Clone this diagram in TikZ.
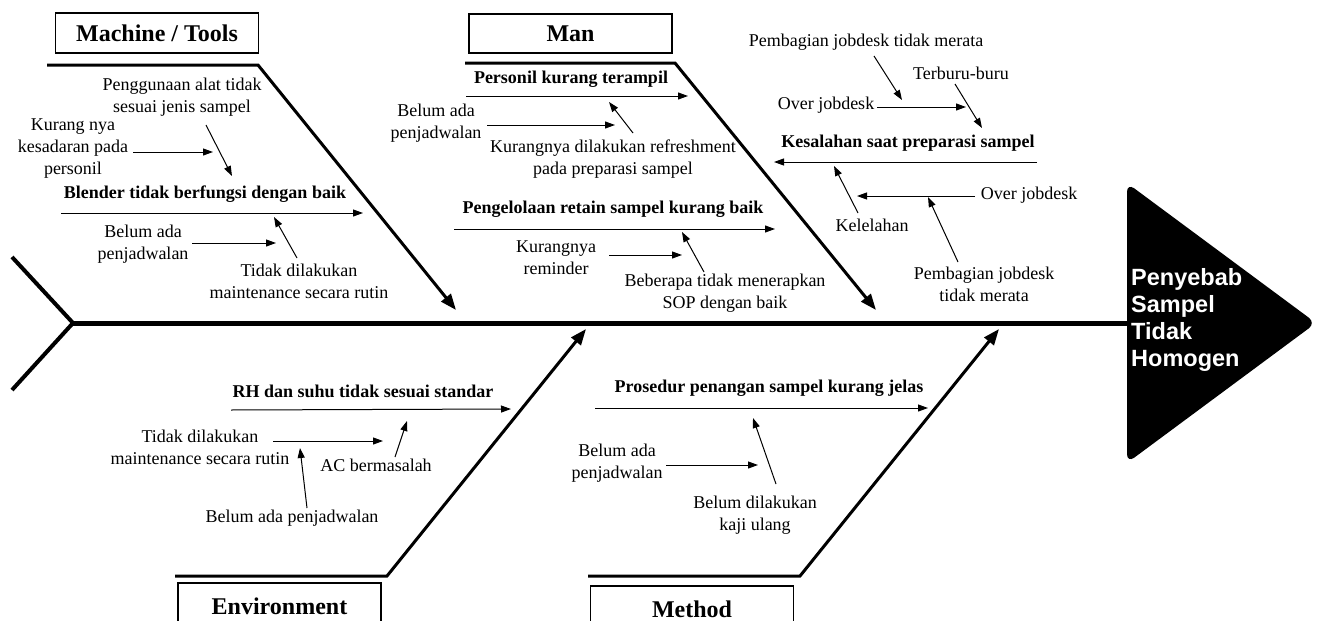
\documentclass[tikz,border=0pt]{standalone}
\usepackage{fontspec}
\setmainfont{Liberation Serif}
\newfontfamily\headfont{Liberation Sans}
\usetikzlibrary{arrows.meta}
\begin{document}
\begin{tikzpicture}[x=1pt,y=-1pt,
  lbl/.style={font=\fontsize{18}{22}\selectfont, align=center, inner sep=0pt},
  blbl/.style={font=\fontsize{18}{22}\selectfont\bfseries, align=center, inner sep=0pt},
  catbox/.style={draw, line width=1.2pt, font=\fontsize{24}{28}\selectfont\bfseries, inner sep=0pt, minimum width=203pt},
  bone/.style={line width=3pt, line join=miter, -{Triangle[length=16pt,width=12pt]}},
  sub/.style={line width=1pt, -{Triangle[length=10pt,width=7pt]}},
  spine/.style={line width=5pt}
]
\useasboundingbox (0,0) rectangle (1325,621);
\fill[white] (0,0) rectangle (1325,621);

% ---------- spine, tail, head ----------
\coordinate (tailT) at (12,257);
\coordinate (tailV) at (73,323);
\coordinate (tailB) at (12,390);
\coordinate (headL) at (1128,323);
\draw[line width=4pt, line join=miter] (tailT) -- (tailV) -- (tailB);
\fill[black, rounded corners=9pt] (1127,183) -- (1316,323) -- (1127,463) -- cycle;
\draw[spine] (tailV) -- (headL);
\node[anchor=west, text=white, align=left, inner sep=0pt,
      font=\headfont\bfseries\fontsize{23.5}{27}\selectfont] (head) at (1131,320)
  {Penyebab\\Sampel\\Tidak\\Homogen};

% ---------- category boxes ----------
\node[catbox, minimum height=40pt] (machine) at (157,33) {Machine / Tools};
\node[catbox, minimum height=39pt] (man) at (570.5,33.5) {Man};
\node[catbox, minimum height=46pt] (env) at (279.5,606) {Environment};
\node[catbox, minimum height=46pt] (method) at (692,609) {Method};

% ---------- main bones ----------
\coordinate (mb1) at (47,65);  \coordinate (mb2) at (258,65);  \coordinate (mb3) at (456,310);
\coordinate (nb1) at (465,63); \coordinate (nb2) at (675,63);  \coordinate (nb3) at (876,310);
\coordinate (eb1) at (175,576);\coordinate (eb2) at (387,576); \coordinate (eb3) at (586,329);
\coordinate (tb1) at (588,576);\coordinate (tb2) at (800,576); \coordinate (tb3) at (999,329);
\draw[bone] (mb1) -- (mb2) -- (mb3);
\draw[bone] (nb1) -- (nb2) -- (nb3);
\draw[bone] (eb1) -- (eb2) -- (eb3);
\draw[bone] (tb1) -- (tb2) -- (tb3);

% ---------- Machine / Tools ----------
\node[lbl] (m1) at (182,97) {Penggunaan alat tidak\\sesuai jenis sampel};
\node[lbl] (m2) at (73,149) {Kurang nya\\kesadaran pada\\personil};
\node[blbl] (m3) at (205,194) {Blender tidak berfungsi dengan baik};
\node[lbl] (m4) at (143,244) {Belum ada\\penjadwalan};
\node[lbl] (m5) at (299,281) {Tidak dilakukan\\maintenance secara rutin};
\coordinate (ma1s) at (206,125); \coordinate (ma1e) at (232,176);
\coordinate (ma2s) at (133,152); \coordinate (ma2e) at (213,152);
\coordinate (ma3s) at (61,213);  \coordinate (ma3e) at (363,213);
\coordinate (ma4s) at (192,243); \coordinate (ma4e) at (276,243);
\coordinate (ma5s) at (297,258); \coordinate (ma5e) at (274,217);
\draw[sub] (ma1s) -- (ma1e);
\draw[sub] (ma2s) -- (ma2e);
\draw[sub] (ma3s) -- (ma3e);
\draw[sub] (ma4s) -- (ma4e);
\draw[sub] (ma5s) -- (ma5e);

% ---------- Man ----------
\node[blbl] (n1) at (571,79) {Personil kurang terampil};
\node[lbl] (n2) at (436,123) {Belum ada\\penjadwalan};
\node[lbl] (n3) at (613,159) {Kurangnya dilakukan refreshment\\pada preparasi sampel};
\node[blbl] (n4) at (613,209) {Pengelolaan retain sampel kurang baik};
\node[lbl] (n5) at (556,258) {Kurangnya\\reminder};
\node[lbl] (n6) at (725,293) {Beberapa tidak menerapkan\\SOP dengan baik};
\coordinate (na1s) at (466,96);  \coordinate (na1e) at (688,96);
\coordinate (na2s) at (487,125); \coordinate (na2e) at (615,125);
\coordinate (na3s) at (633,133); \coordinate (na3e) at (609,102);
\coordinate (na4s) at (454,229); \coordinate (na4e) at (775,229);
\coordinate (na5s) at (609,255); \coordinate (na5e) at (682,255);
\coordinate (na6s) at (704,272); \coordinate (na6e) at (682,232);
\draw[sub] (na1s) -- (na1e);
\draw[sub] (na2s) -- (na2e);
\draw[sub] (na3s) -- (na3e);
\draw[sub] (na4s) -- (na4e);
\draw[sub] (na5s) -- (na5e);
\draw[sub] (na6s) -- (na6e);

% ---------- Kesalahan saat preparasi sampel ----------
\node[lbl] (k1) at (866,42) {Pembagian jobdesk tidak merata};
\node[lbl] (k2) at (961,73) {Terburu-buru};
\node[lbl] (k3) at (826,105) {Over jobdesk};
\node[blbl] (k4) at (908,143) {Kesalahan saat preparasi sampel};
\node[lbl] (k5) at (1029,195) {Over jobdesk};
\node[lbl] (k6) at (872,225) {Kelelahan};
\node[lbl] (k7) at (984,284) {Pembagian jobdesk\\tidak merata};
\coordinate (ka1s) at (874,56);  \coordinate (ka1e) at (902,100);
\coordinate (ka2s) at (955,84);  \coordinate (ka2e) at (982,128);
\coordinate (ka3s) at (877,107); \coordinate (ka3e) at (966,107);
\coordinate (ka4s) at (1037,162);\coordinate (ka4e) at (774,162);
\coordinate (ka5s) at (975,196); \coordinate (ka5e) at (857,196);
\coordinate (ka6s) at (858,213); \coordinate (ka6e) at (834,166);
\coordinate (ka7s) at (958,262); \coordinate (ka7e) at (928,197);
\draw[sub] (ka1s) -- (ka1e);
\draw[sub] (ka2s) -- (ka2e);
\draw[sub] (ka3s) -- (ka3e);
\draw[sub] (ka4s) -- (ka4e);
\draw[sub] (ka5s) -- (ka5e);
\draw[sub] (ka6s) -- (ka6e);
\draw[sub] (ka7s) -- (ka7e);

% ---------- Environment ----------
\node[blbl] (e1) at (363,391) {RH dan suhu tidak sesuai standar};
\node[lbl] (e2) at (200,447) {Tidak dilakukan\\maintenance secara rutin};
\node[lbl] (e3) at (376,465) {AC bermasalah};
\node[lbl] (e4) at (292,518) {Belum ada penjadwalan};
\coordinate (ea1s) at (231,410); \coordinate (ea1e) at (511,409);
\coordinate (ea2s) at (273,441); \coordinate (ea2e) at (383,441);
\coordinate (ea3s) at (395,457); \coordinate (ea3e) at (407,421);
\coordinate (ea4s) at (307,508); \coordinate (ea4e) at (300,448);
\draw[sub] (ea1s) -- (ea1e);
\draw[sub] (ea2s) -- (ea2e);
\draw[sub] (ea3s) -- (ea3e);
\draw[sub] (ea4s) -- (ea4e);

% ---------- Method ----------
\node[blbl] (t1) at (769,388) {Prosedur penangan sampel kurang jelas};
\node[lbl] (t2) at (617,463) {Belum ada\\penjadwalan};
\node[lbl] (t3) at (755,515) {Belum dilakukan\\kaji ulang};
\coordinate (ta1s) at (595,408); \coordinate (ta1e) at (928,408);
\coordinate (ta2s) at (666,465); \coordinate (ta2e) at (758,465);
\coordinate (ta3s) at (776,484); \coordinate (ta3e) at (753,418);
\draw[sub] (ta1s) -- (ta1e);
\draw[sub] (ta2s) -- (ta2e);
\draw[sub] (ta3s) -- (ta3e);
\end{tikzpicture}
\end{document}
